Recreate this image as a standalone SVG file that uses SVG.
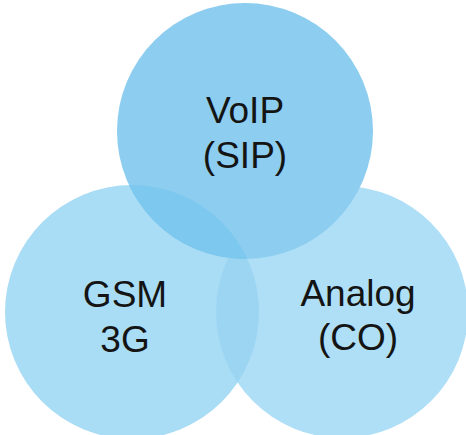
<svg xmlns="http://www.w3.org/2000/svg" width="466" height="435" viewBox="0 0 466 435">
<style>
.lbl{font-family:"Liberation Sans",Arial,sans-serif;font-size:37px;fill:#141414;text-anchor:middle}
</style>
<defs>
<clipPath id="cl"><circle cx="132" cy="312" r="127"/></clipPath>
</defs>
<rect width="466" height="435" fill="#ffffff"/>
<g id="gsm">
<circle cx="132" cy="312" r="127" fill="#a9dcf5"/>
</g>
<g id="analog">
<circle cx="342" cy="312" r="126" fill="#aedff7"/>
<circle cx="342" cy="312" r="126" fill="#9cd5f2" clip-path="url(#cl)"/>
</g>
<g id="voip">
<circle cx="245" cy="131" r="128" fill="#8dcdf0"/>
<circle cx="245" cy="131" r="128" fill="#7dc8ee" clip-path="url(#cl)"/>
</g>
<g id="labels">
<text class="lbl" x="245" y="123">VoIP</text>
<text class="lbl" x="245" y="168">(SIP)</text>
<text class="lbl" x="125" y="307">GSM</text>
<text class="lbl" x="125" y="352">3G</text>
<text class="lbl" x="358" y="306">Analog</text>
<text class="lbl" x="358" y="350">(CO)</text>
</g>
</svg>
